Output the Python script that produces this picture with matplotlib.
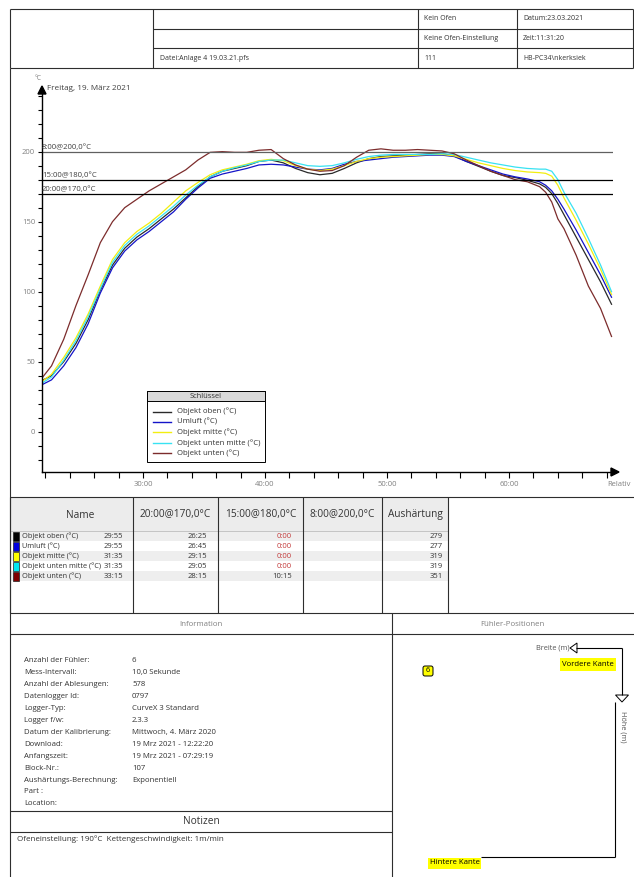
import matplotlib.pyplot as plt
from matplotlib.patches import Rectangle, Polygon, FancyBboxPatch
from matplotlib.ticker import MultipleLocator, FuncFormatter

plt.rcParams['font.family'] = ['Open Sans', 'DejaVu Sans']

W, H = 634, 877

# relative time in minutes
minutes = [21.6, 22.5, 23.5, 24.5, 25.5, 26.5, 27.5, 28.5, 29.5, 30.5, 31.5, 32.5, 33.5,
           34.5, 35.5, 36.5, 37.5, 38.5, 39.5, 40.5, 41.5, 42.5, 43.5, 44.5, 45.5, 46.5,
           47.5, 48.5, 49.5, 50.5, 51.5, 52.5, 53.5, 54.5, 55.5, 56.5, 57.5, 58.5, 59.5,
           60.5, 61.5, 62.5, 63.0, 63.5, 64.0, 64.5, 65.5, 66.5, 67.5, 68.4]

objekt_oben = [36, 40, 50, 63, 80, 101, 119, 131, 139, 145, 152, 159, 167,
               175, 182, 186, 188, 190, 193, 194, 192, 188, 185, 183.5, 184.5, 188,
               192, 195, 196.5, 197, 197.5, 198, 198.5, 198.5, 197, 193, 189.5, 186, 183,
               181.5, 179.5, 177, 174.5, 170, 163, 155, 139, 123, 107, 91]
umluft = [33, 37, 47, 60, 77, 99, 117, 129, 137, 143, 150, 157, 166,
          174, 181, 184, 186, 188, 190.5, 191, 190.5, 189, 187.5, 187, 188, 191,
          193, 194, 195, 196, 196.5, 197, 197.5, 197.5, 196.5, 193, 190, 187, 184,
          182, 180.5, 178.5, 176, 172, 166, 159, 144, 128, 112, 96]
objekt_mitte = [35, 41, 53, 67, 84, 104, 123, 135, 143, 149, 156, 164, 172,
                178, 183.5, 187, 189, 191, 193.5, 194.5, 193.5, 190, 187.5, 186.5, 187.5, 190,
                193, 195, 196, 196.5, 197, 197.5, 198, 198, 197, 194.5, 192, 190, 188,
                186.5, 185.5, 185, 184.5, 182.5, 176, 167, 151, 134, 116, 98]
objekt_unten_mitte = [34, 39, 51, 65, 82, 102, 121, 133, 141, 147, 154, 161, 169,
                      176, 182, 186, 188.5, 190.5, 193, 194, 194, 192, 190, 189.5, 190, 192,
                      194.5, 196.5, 197.5, 198, 198, 198, 198, 198.5, 198, 196, 194, 192, 190.5,
                      189, 188, 187.5, 187.5, 186, 180, 171, 156, 138, 119, 100]
objekt_unten = [37, 47, 66, 90, 112, 135, 150, 160, 166, 172, 177, 182, 187,
                194, 199.5, 200, 199.5, 199.5, 201, 201.5, 195, 190.5, 187.5, 186, 186.5, 190,
                196, 201, 202, 201, 201, 201.5, 201, 200.5, 198.5, 194, 190, 186, 183,
                180, 178.5, 175, 171, 164, 152, 145, 126, 104, 88, 68]

series = [objekt_oben, umluft, objekt_mitte, objekt_unten_mitte, objekt_unten]
series_names = ["Objekt oben (°C)", "Umluft (°C)", "Objekt mitte (°C)",
                "Objekt unten mitte (°C)", "Objekt unten (°C)"]
series_colors = ["#2a2a2a", "#1414c8", "#f2ee10", "#38e2f2", "#7c2c2c"]
swatch_colors = ["#000000", "#0000e0", "#ffff00", "#00e8f0", "#800000"]

limits = [200, 180, 170]
limit_labels = ["8:00@200,0°C", "15:00@180,0°C", "20:00@170,0°C"]
limit_colors = ["#606060", "#000000", "#000000"]

table_head = ["Name", "20:00@170,0°C", "15:00@180,0°C", "8:00@200,0°C", "Aushärtung"]
t170 = ["29:55", "29:55", "31:35", "31:35", "33:15"]
t180 = ["26:25", "26:45", "29:15", "29:05", "28:15"]
t200 = ["0:00", "0:00", "0:00", "0:00", "10:15"]
cure = ["279", "277", "319", "319", "351"]

info_labels = ["Anzahl der Fühler:", "Mess-Intervall:", "Anzahl der Ablesungen:",
               "Datenlogger Id:", "Logger-Typ:", "Logger f/w:", "Datum der Kalibrierung:",
               "Download:", "Anfangszeit:", "Block-Nr.:", "Aushärtungs-Berechnung:",
               "Part :", "Location:"]
info_values = ["6", "10,0 Sekunde", "578", "0797", "CurveX 3 Standard", "2.3.3",
               "Mittwoch, 4. März 2020", "19 Mrz 2021 - 12:22:20", "19 Mrz 2021 - 07:29:19",
               "107", "Exponentiell", "", ""]

txt_c = "#333333"
grey_c = "#808080"
edge = "#2e2e2e"

fig = plt.figure(figsize=(W / 100, H / 100), dpi=100)
fig.patch.set_facecolor("white")

# ---- chart axes (pixel box 42..613 x 92..472)
ax = fig.add_axes([42 / W, 1 - 472 / H, (613 - 42) / W, (472 - 92) / H])
ax.set_xlim(21.72, 68.52)
ax.set_ylim(-28.8, 242.6)
for vals, col in zip(series, series_colors):
    ax.plot(minutes, vals, color=col, lw=0.9)
for lim, lab, col in zip(limits, limit_labels, limit_colors):
    ax.axhline(lim, color=col, lw=0.9)
    ax.text(21.72, lim + 0.8, lab, fontsize=5.6, color="#404040", ha="left", va="bottom")

for s in ["top", "right"]:
    ax.spines[s].set_visible(False)
for s in ["left", "bottom"]:
    ax.spines[s].set_color("black")
    ax.spines[s].set_linewidth(1.0)
ax.yaxis.set_major_locator(MultipleLocator(50))
ax.yaxis.set_minor_locator(MultipleLocator(10))
ax.tick_params(axis="y", which="both", direction="out", length=3, width=0.8,
               labelsize=5.5, labelcolor=grey_c, pad=2)
ax.xaxis.set_major_locator(MultipleLocator(2))
ax.xaxis.set_major_formatter(FuncFormatter(
    lambda v, p: f"{int(round(v))}:00" if int(round(v)) % 10 == 0 else ""))
ax.tick_params(axis="x", which="both", direction="out", length=4.5, width=0.8,
               labelsize=5.5, labelcolor=grey_c, pad=2)
ax.patch.set_alpha(0)

# ---- page overlay in pixel coordinates
page = fig.add_axes([0, 0, 1, 1], zorder=5)
page.set_xlim(0, W)
page.set_ylim(H, 0)
page.axis("off")
page.patch.set_alpha(0)


def line(x0, y0, x1, y1, c=edge, lw=0.8):
    page.plot([x0, x1], [y0, y1], color=c, lw=lw, solid_capstyle="butt")


def txt(x, y, s, size=5, c=txt_c, ha="left", **kw):
    page.text(x, y, s, fontsize=size, color=c, ha=ha, va="center", **kw)


# axis arrows and chart labels
page.add_patch(Polygon([(38, 94), (46, 94), (42, 86)], closed=True, color="black"))
page.add_patch(Polygon([(611, 468), (611, 476), (619, 472)], closed=True, color="black"))
txt(35, 78, "°C", size=4.8, c=grey_c)
txt(47, 89, "Freitag, 19. März 2021", size=5.9, c="#404040")
txt(607, 484, "Relativ", size=5.5, c=grey_c)

# legend
page.add_patch(Rectangle((147, 391), 118, 71, facecolor="white", edgecolor="black", lw=0.7))
page.add_patch(Rectangle((147, 391), 118, 9.5, facecolor="#d9d9d9", edgecolor="black", lw=0.7))
txt(206, 396, "Schlüssel", size=5.4, ha="center")
for i, (name, col) in enumerate(zip(series_names, series_colors)):
    y = 411.5 + i * 10.4
    page.plot([153, 171], [y, y], color=col, lw=1.0)
    txt(177, y, name, size=5.6)

# header table
line(10, 9, 633, 9)
line(153, 29, 633, 29)
line(153, 48, 633, 48)
line(10, 68, 633, 68)
for x in [10, 153, 418, 517, 633]:
    line(x, 9, x, 68)
txt(424, 19, "Kein Ofen")
txt(523, 19, "Datum:23.03.2021")
txt(424, 38.5, "Keine Ofen-Einstellung")
txt(523, 38.5, "Zeit:11:31:20")
txt(160, 58, "Datei:Anlage 4 19.03.21.pfs")
txt(424, 58, "111")
txt(523, 58, "HB-PC34\\nkerksiek")

# frame lines around chart and lower sections
line(10, 68, 10, 877)
line(10, 497, 634, 497)
line(10, 613, 634, 613)

# result table
col_x = [10, 133, 218, 303, 382, 448]
page.add_patch(Rectangle((10, 497), 438, 34, facecolor="#ececec", edgecolor="none"))
line(10, 531, 448, 531, c="#bdbdbd", lw=0.6)
for i in range(5):
    if i % 2 == 0:
        page.add_patch(Rectangle((10, 531 + i * 10), 438, 10, facecolor="#eeeeee",
                                 edgecolor="none"))
for x in col_x:
    line(x, 497, x, 613)
head_x = [80, 175.5, 260.5, 342.5, 415]
for hx, h in zip(head_x, table_head):
    txt(hx, 515, h, size=7.3, ha="center")
for i in range(5):
    y = 536.5 + i * 10
    page.add_patch(Rectangle((13, y - 4.3), 5.5, 8.6, facecolor=swatch_colors[i],
                             edgecolor="#202020", lw=0.5))
    txt(22, y, series_names[i], size=5.3)
    txt(123, y, t170[i], size=5.5, ha="right")
    txt(207, y, t180[i], size=5.5, ha="right")
    txt(292, y, t200[i], size=5.5, ha="right",
        c="#c23a3a" if t200[i] == "0:00" else txt_c)
    txt(443, y, cure[i], size=5.5, ha="right")

# information panel
line(392, 613, 392, 877)
line(10, 634, 634, 634)
txt(201, 624.5, "Information", size=5.7, c=grey_c, ha="center")
for i, (lab, val) in enumerate(zip(info_labels, info_values)):
    y = 661 + i * 11.9
    txt(24, y, lab, size=5.6)
    txt(132, y, val, size=5.6)
line(10, 811, 392, 811)
line(10, 832, 392, 832)
txt(201, 821.5, "Notizen", size=7.3, ha="center")
txt(17, 839.5, "Ofeneinstellung: 190°C  Kettengeschwindigkeit: 1m/min", size=5.8)

# sensor positions panel
txt(512, 624.5, "Fühler-Positionen", size=5.7, c=grey_c, ha="center")
txt(569, 648, "Breite (m)", size=5.3, c="#555555", ha="right")
line(576, 648, 622, 648, c="black")
line(622, 648, 622, 695, c="black")
page.add_patch(Polygon([(570, 648), (577, 643), (577, 653)], closed=True,
                       facecolor="white", edgecolor="black", lw=0.7))
page.add_patch(Polygon([(615.5, 695), (628.5, 695), (622, 702)], closed=True,
                       facecolor="white", edgecolor="black", lw=0.7))
page.text(622.5, 727, "Höhe (m)", fontsize=5.3, color="#555555", rotation=-90,
          ha="center", va="center")
line(614.7, 702, 614.7, 857, c="black")
line(614.7, 857, 481, 857, c="black")
page.add_patch(Rectangle((560, 658), 56, 13, facecolor="#ffff00", edgecolor="none"))
txt(588, 664.5, "Vordere Kante", size=5.6, c="black", ha="center")
page.add_patch(Rectangle((428, 857.5), 53, 11, facecolor="#ffff00", edgecolor="none"))
txt(454.5, 863, "Hintere Kante", size=5.6, c="black", ha="center")
page.add_patch(FancyBboxPatch((423, 666), 10, 10, boxstyle="round,pad=0,rounding_size=2",
                              facecolor="#ffff00", edgecolor="black", lw=0.7))
txt(428, 671, "6", size=5.3, c="black", ha="center")

fig.savefig("out.png", dpi=100)
